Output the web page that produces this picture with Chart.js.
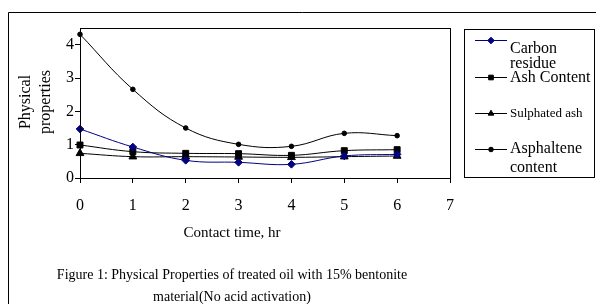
<!DOCTYPE html>
<html>
<head>
<meta charset="utf-8">
<script src="https://cdn.jsdelivr.net/npm/chart.js@4/dist/chart.umd.min.js"></script>
<style>
  html, body { margin: 0; padding: 0; background: #fff; }
  canvas { display: block; }
</style>
</head>
<body>
<canvas id="chart" width="596" height="304"></canvas>
<script>
// data
const hours = [0, 1, 2, 3, 4, 5, 6];
const carbonResidue = [1.47, 0.93, 0.53, 0.47, 0.41, 0.66, 0.71];
const ashContent = [0.99, 0.79, 0.74, 0.73, 0.68, 0.82, 0.85];
const sulphatedAsh = [0.74, 0.64, 0.64, 0.63, 0.62, 0.64, 0.66];
const asphaltene = [4.31, 2.66, 1.50, 1.01, 0.95, 1.34, 1.27];
const xTicks = [0, 1, 2, 3, 4, 5, 6, 7];
const yTicks = [0, 1, 2, 3, 4];

const serif = '"Liberation Serif", "Times New Roman", serif';

function pts(ys) {
    return hours.map((h, i) => ({ x: h, y: ys[i] }));
}

function series(label, ys, color, style, r) {
    return {
        label: label,
        data: pts(ys),
        borderColor: color,
        backgroundColor: color,
        borderWidth: 1,
        pointStyle: style,
        pointRadius: r,
        pointHoverRadius: r,
        tension: 0.4,
        clip: false
    };
}

// frame, plot box, legend and texts
const decor = {
    id: 'decor',
    afterDraw(chart) {
        const ctx = chart.ctx;
        const a = chart.chartArea;
        ctx.save();
        ctx.strokeStyle = '#000';
        ctx.lineWidth = 1;

        // outer frame (open on right and bottom)
        ctx.beginPath();
        ctx.moveTo(8.5, 304);
        ctx.lineTo(8.5, 12.5);
        ctx.lineTo(596, 12.5);
        ctx.stroke();

        // plot box
        ctx.strokeRect(Math.round(a.left) + 0.5, Math.round(a.top) + 0.5,
            Math.round(a.right - a.left), Math.round(a.bottom - a.top));

        // legend box
        ctx.strokeRect(464.5, 29.5, 130, 148);

        const rows = [
            { ds: 0, y: 40, lines: ['Carbon', 'residue'], base: [53, 68], size: 16 },
            { ds: 1, y: 77, lines: ['Ash Content'], base: [82], size: 16 },
            { ds: 2, y: 113, lines: ['Sulphated ash'], base: [117], size: 13 },
            { ds: 3, y: 149, lines: ['Asphaltene', 'content'], base: [153, 172], size: 16 }
        ];
        rows.forEach(row => {
            const ds = chart.data.datasets[row.ds];
            ctx.strokeStyle = ds.borderColor;
            ctx.beginPath();
            ctx.moveTo(475, row.y + 0.5);
            ctx.lineTo(507, row.y + 0.5);
            ctx.stroke();
            ctx.fillStyle = ds.backgroundColor;
            Chart.helpers.drawPoint(ctx, {
                pointStyle: ds.pointStyle,
                radius: Math.min(ds.pointRadius, 3.3),
                rotation: 0,
                borderWidth: 1
            }, 491, row.y + 0.5);
            ctx.fillStyle = '#000';
            ctx.font = row.size + 'px ' + serif;
            ctx.textAlign = 'left';
            ctx.textBaseline = 'alphabetic';
            row.lines.forEach((t, i) => ctx.fillText(t, 510, row.base[i]));
        });

        ctx.fillStyle = '#000';
        // y title
        ctx.save();
        ctx.translate(26, 102);
        ctx.rotate(-Math.PI / 2);
        ctx.font = '16px ' + serif;
        ctx.textAlign = 'center';
        ctx.textBaseline = 'middle';
        ctx.fillText('Physical', 0, 0);
        ctx.fillText('properties', 0, 20);
        ctx.restore();

        // x title
        ctx.font = '15px ' + serif;
        ctx.textAlign = 'center';
        ctx.textBaseline = 'middle';
        ctx.fillText('Contact time, hr', 232, 233);

        // caption
        ctx.font = '14px ' + serif;
        ctx.fillText('Figure 1: Physical Properties of treated oil with 15% bentonite', 232, 275);
        ctx.fillText('material(No acid activation)', 232, 297);
        ctx.restore();
    }
};

new Chart(document.getElementById('chart').getContext('2d'), {
    type: 'line',
    data: {
        datasets: [
            series('Carbon residue', carbonResidue, '#000080', 'rectRot', 3.8),
            series('Ash Content', ashContent, '#000', 'rect', 4.2),
            series('Sulphated ash', sulphatedAsh, '#000', 'triangle', 4.5),
            series('Asphaltene content', asphaltene, '#000', 'circle', 2.3)
        ]
    },
    options: {
        responsive: false,
        animation: false,
        devicePixelRatio: 1,
        layout: { padding: { top: 28, left: 0, right: 146, bottom: 0 } },
        plugins: {
            legend: { display: false },
            tooltip: { enabled: false }
        },
        scales: {
            x: {
                type: 'linear',
                min: 0,
                max: 7,
                afterFit: s => { s.height = 126; },
                afterBuildTicks: s => { s.ticks = xTicks.map(v => ({ value: v })); },
                grid: { drawOnChartArea: false, tickLength: 5, tickColor: '#000', color: '#000' },
                border: { color: '#000', width: 1 },
                ticks: { color: '#000', padding: 13, font: { family: serif, size: 16 }, maxRotation: 0 }
            },
            y: {
                min: 0,
                max: 4.5,
                afterFit: s => { s.width = 80; },
                afterBuildTicks: s => { s.ticks = yTicks.map(v => ({ value: v })); },
                grid: { drawOnChartArea: false, tickLength: 5, tickColor: '#000', color: '#000' },
                border: { color: '#000', width: 1 },
                ticks: { color: '#000', padding: 1, font: { family: serif, size: 16 } }
            }
        }
    },
    plugins: [decor]
});
</script>
</body>
</html>
